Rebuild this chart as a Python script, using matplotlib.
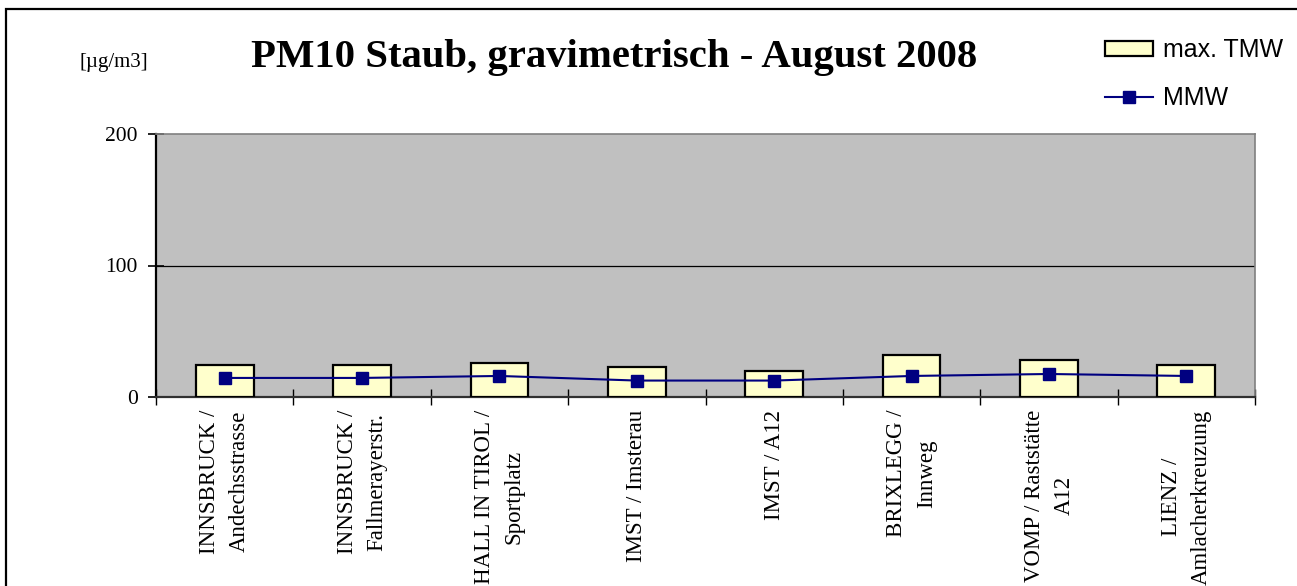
import matplotlib
matplotlib.use("Agg")
import matplotlib.pyplot as plt
from matplotlib.patches import Rectangle
from matplotlib.lines import Line2D
import numpy as np

categories = [
    "INNSBRUCK /\nAndechsstrasse",
    "INNSBRUCK /\nFallmerayerstr.",
    "HALL IN TIROL /\nSportplatz",
    "IMST / Imsterau",
    "IMST / A12",
    "BRIXLEGG /\nInnweg",
    "VOMP / Raststätte\nA12",
    "LIENZ /\nAmlacherkreuzung",
]
max_tmw = [24, 24, 25.5, 22.5, 19.5, 32, 28.5, 24]
mmw = [14.5, 14.5, 16, 12.5, 12.5, 16, 17.5, 16]
yticks = [0, 100, 200]

W, H = 1297, 586
fig = plt.figure(figsize=(W / 100, H / 100), dpi=100)
fig.patch.set_facecolor("white")

serif = ["Liberation Serif", "DejaVu Serif"]
sans = ["Liberation Sans", "DejaVu Sans"]

ax = fig.add_axes([156 / W, 1 - 397 / H, (1255 - 156) / W, (397 - 134) / H])
ax.set_facecolor("#C0C0C0")

x = np.arange(len(categories))
ax.bar(x, max_tmw, width=0.42, color="#FFFFCC", edgecolor="black", linewidth=1.6, zorder=3)
ax.plot(x, mmw, color="#000080", linewidth=1.5, marker="s", markersize=8,
        markerfacecolor="#000080", markeredgecolor="#000080", zorder=4)

ax.set_xlim(-0.5, len(categories) - 0.5)
ax.set_ylim(0, 200)

ax.axhline(100, color="black", linewidth=0.9, zorder=1)

for s in ["top", "right"]:
    ax.spines[s].set_color("#808080")
    ax.spines[s].set_linewidth(1.2)
ax.spines["left"].set_color("black")
ax.spines["left"].set_linewidth(1.6)
ax.spines["bottom"].set_color("#303030")
ax.spines["bottom"].set_linewidth(1.6)

ax.set_yticks(yticks)
ax.set_yticklabels([str(v) for v in yticks], fontfamily=serif, fontsize=15.5)
ax.tick_params(axis="y", direction="inout", length=12, width=1.2, pad=7)

ax.set_xticks(np.arange(-0.5, len(categories), 1.0))
ax.set_xticklabels([])
ax.tick_params(axis="x", which="major", direction="inout", length=12, width=1.0)
ax.set_xticks(x, minor=True)
ax.set_xticklabels(categories, minor=True, rotation=90, fontfamily=serif,
                   fontsize=16.5, va="top", ha="center", multialignment="center",
                   linespacing=1.55)
ax.tick_params(axis="x", which="minor", length=0, pad=9)

fig.text(614 / W, 1 - 57 / H, "PM10 Staub, gravimetrisch - August 2008",
         fontfamily=serif, fontweight="bold", fontsize=29.3, ha="center", va="center")
fig.text(114 / W, 1 - 62 / H, "[µg/m3]", fontfamily=serif, fontsize=15,
         ha="center", va="center")

handles = [
    Rectangle((0, 0), 1, 1, facecolor="#FFFFCC", edgecolor="black", linewidth=1.6),
    Line2D([0], [0], color="#000080", linewidth=1.5, marker="s", markersize=8,
           markerfacecolor="#000080", markeredgecolor="#000080"),
]
fig.legend(handles, ["max. TMW", "MMW"], loc="upper left",
           bbox_to_anchor=(1105 / W, 1 - 38 / H), frameon=False,
           prop={"family": sans, "size": 18}, handlelength=1.9,
           handleheight=0.55, handletextpad=0.42, labelspacing=0.95,
           borderaxespad=0, borderpad=0)

fig.add_artist(Rectangle((6 / W, -0.2), 1.5, (1 - 9 / H) + 0.2,
                         transform=fig.transFigure, fill=False,
                         edgecolor="black", linewidth=1.6))

fig.savefig("out.png", dpi=100)
